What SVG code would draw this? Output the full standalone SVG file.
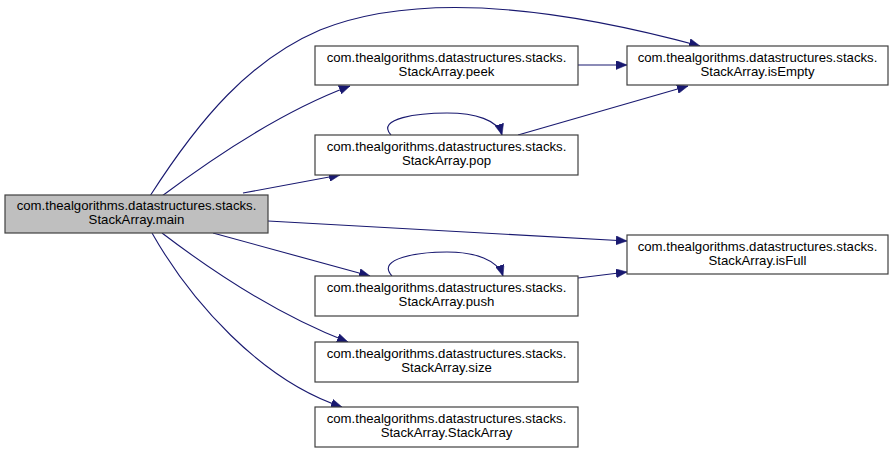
<svg xmlns="http://www.w3.org/2000/svg" width="895" height="453" viewBox="0 0 895 453">
<style>
.n rect{fill:#ffffff;stroke:#404040;stroke-width:1.2}
.m rect{fill:#bfbfbf}
text{font-family:"Liberation Sans",Arial,sans-serif;font-size:13.2px;fill:#000;text-anchor:middle}
.e path{fill:none;stroke:#191970;stroke-width:1.1;marker-end:url(#ah)}
</style>
<defs>
<marker id="ah" markerUnits="userSpaceOnUse" markerWidth="12" markerHeight="9" refX="11" refY="4.5" orient="auto">
<path d="M0,0 L11,4.5 L0,9 z" fill="#191970" stroke="#191970" stroke-width="0.5"/>
</marker>
</defs>
<rect width="895" height="453" fill="#ffffff"/>
<g class="e">
<path d="M150,196 C200,118 250,60 320,30 C420,-10 560,8 700,46"/>
<path d="M162,196 C210,160 280,112 350,86"/>
<path d="M243,193 L340,175"/>
<path d="M578,65 L627,65"/>
<path d="M518,135 L688,86"/>
<path d="M391,135 C375,118 420,113 447,113 C475,113 498,120 502,135"/>
<path d="M268,221 L627,241"/>
<path d="M213,233 L370,276"/>
<path d="M392,276 C375,258 420,252 447,252 C475,252 498,260 503,276"/>
<path d="M578,278 L627,272"/>
<path d="M162,233 C200,262 270,312 348,342"/>
<path d="M152,233 C190,300 260,380 342,407"/>
</g>
<g id="main" class="n m"><rect x="5" y="195" width="263" height="38"/><text x="136.5" y="210">com.thealgorithms.datastructures.stacks.</text><text x="136.5" y="224">StackArray.main</text></g>
<g id="peek" class="n"><rect x="315" y="46" width="263" height="39"/><text x="446.5" y="62">com.thealgorithms.datastructures.stacks.</text><text x="446.5" y="76">StackArray.peek</text></g>
<g id="pop" class="n"><rect x="315" y="135" width="263" height="40"/><text x="446.5" y="151">com.thealgorithms.datastructures.stacks.</text><text x="446.5" y="165">StackArray.pop</text></g>
<g id="isEmpty" class="n"><rect x="627" y="46" width="261" height="39"/><text x="757.5" y="62">com.thealgorithms.datastructures.stacks.</text><text x="757.5" y="76">StackArray.isEmpty</text></g>
<g id="isFull" class="n"><rect x="627" y="235" width="261" height="39"/><text x="757.5" y="251">com.thealgorithms.datastructures.stacks.</text><text x="757.5" y="265">StackArray.isFull</text></g>
<g id="push" class="n"><rect x="315" y="276" width="263" height="40"/><text x="446.5" y="292">com.thealgorithms.datastructures.stacks.</text><text x="446.5" y="306">StackArray.push</text></g>
<g id="size" class="n"><rect x="315" y="342" width="263" height="40"/><text x="446.5" y="358">com.thealgorithms.datastructures.stacks.</text><text x="446.5" y="372">StackArray.size</text></g>
<g id="StackArray" class="n"><rect x="315" y="407" width="263" height="40"/><text x="446.5" y="423">com.thealgorithms.datastructures.stacks.</text><text x="446.5" y="437">StackArray.StackArray</text></g>
</svg>
